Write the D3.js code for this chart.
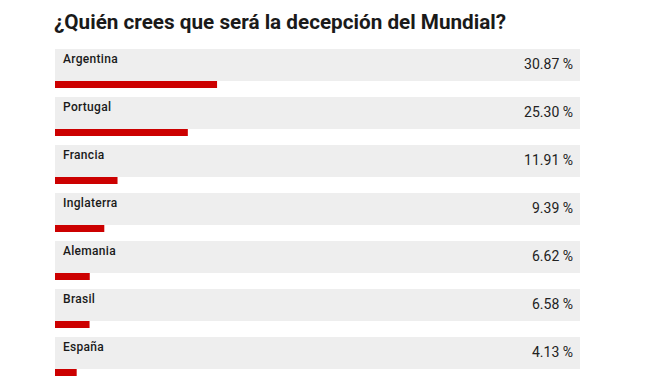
<!DOCTYPE html>
<html>
<head>
<meta charset="utf-8">
<script src="https://cdn.jsdelivr.net/npm/d3@7"></script>
<style>
    body { margin: 0; background: #fff; }
    svg { display: block; font-family: Roboto, "Noto Sans", sans-serif; }
</style>
</head>
<body>
<div id="chart"></div>
<script>
// poll data
var countries = ["Argentina", "Portugal", "Francia", "Inglaterra", "Alemania", "Brasil", "España"];
var percents = [30.87, 25.30, 11.91, 9.39, 6.62, 6.58, 4.13];
var title = "¿Quién crees que será la decepción del Mundial?";

var width = 660, height = 379;
var left = 55, right = 580;
var rowTop = 49, rowStep = 48;
var boxHeight = 32, barHeight = 7;

var svg = d3.select("#chart").append("svg")
    .attr("width", width)
    .attr("height", height);

// title
svg.append("text")
    .attr("x", 54)
    .attr("y", 29)
    .attr("font-size", "20.7px")
    .attr("font-weight", "bold")
    .attr("fill", "#1a1a1a")
    .text(title);

var x = d3.scaleLinear().domain([0, 100]).range([0, right - left]);
var y = d3.scaleBand().domain(countries)
    .range([rowTop, rowTop + rowStep * countries.length])
    .paddingInner(0).paddingOuter(0);

var rows = svg.selectAll("g.row")
    .data(countries.map(function(c, i) { return {name: c, value: percents[i]}; }))
    .enter().append("g")
    .attr("class", "row")
    .attr("transform", function(d) { return "translate(0," + y(d.name) + ")"; });

// grey background box
rows.append("rect")
    .attr("x", left)
    .attr("y", 0)
    .attr("width", right - left)
    .attr("height", boxHeight)
    .attr("fill", "#eeeeee");

// red bar under the box
rows.append("rect")
    .attr("x", left)
    .attr("y", boxHeight)
    .attr("width", function(d) { return x(d.value); })
    .attr("height", barHeight)
    .attr("fill", "#cc0000");

rows.append("text")
    .attr("x", 63)
    .attr("y", 14)
    .attr("font-size", "12px")
    .attr("font-weight", 500)
    .attr("letter-spacing", "0.3px")
    .attr("fill", "#1a1a1a")
    .text(function(d) { return d.name; });

rows.append("text")
    .attr("x", 573)
    .attr("y", 20)
    .attr("text-anchor", "end")
    .attr("font-size", "14px")
    .attr("fill", "#222")
    .text(function(d) { return d.value.toFixed(2) + " %"; });
</script>
</body>
</html>
